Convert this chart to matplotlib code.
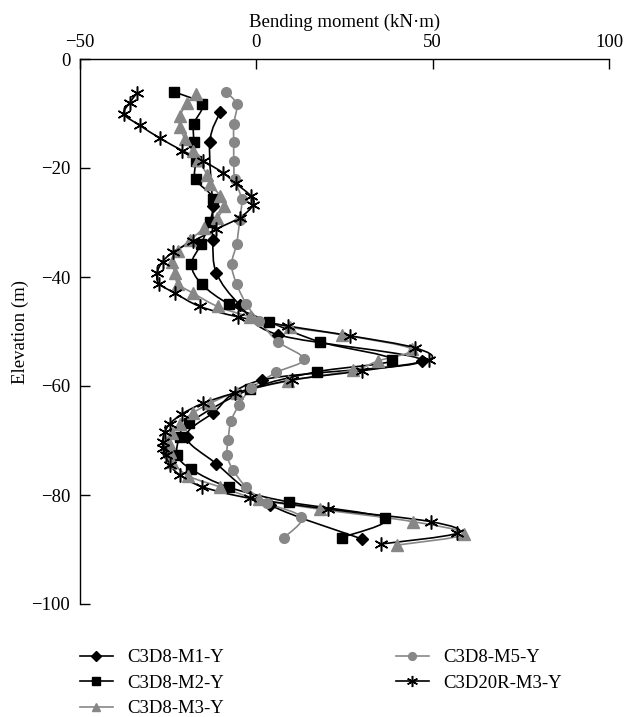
import matplotlib
matplotlib.use("Agg")
import matplotlib.pyplot as plt
from matplotlib.path import Path
from matplotlib.patches import PathPatch
from matplotlib.lines import Line2D

plt.rcParams['font.family'] = ['Liberation Serif', 'DejaVu Serif']
plt.rcParams['axes.unicode_minus'] = True

# ---- data (moment kN·m, elevation m) ----
m1_x = [-10.3, -13.2, -12.4, -12.4, -11.3, -4.7, 6.2, 47.0, 1.5, -12.2, -19.8, -11.3, 3.8, 30.1]
m1_y = [-9.8, -15.3, -27.0, -33.2, -39.3, -45.1, -50.6, -55.4, -58.9, -64.9, -69.3, -74.3, -81.8, -88.1]

m2_x = [-23.4, -15.5, -17.7, -17.7, -17.2, -17.2, -12.2, -13.2, -15.7, -18.4, -15.5, -7.7, 3.6, 18.0,
        38.6, 17.1, -1.8, -19.0, -21.7, -22.4, -18.4, -7.7, 9.3, 36.4, 24.3]
m2_y = [-6.0, -8.3, -11.9, -15.2, -18.7, -22.1, -25.6, -29.9, -34.0, -37.7, -41.3, -45.0, -48.2, -51.9,
        -55.2, -57.4, -60.6, -66.7, -69.3, -72.7, -75.3, -78.6, -81.3, -84.3, -87.8]

m3_x = [-17.0, -19.6, -21.7, -21.7, -20.3, -18.1, -16.5, -13.9, -13.2, -10.2, -9.2, -11.1, -14.9, -18.9,
        -22.2, -23.8, -23.1, -22.2, -18.1, -11.0, -1.8, 9.5, 24.2, 44.0, 34.5, 27.4, 9.0, -5.6, -13.2,
        -18.1, -21.7, -24.0, -24.8, -24.5, -23.8, -19.3, -10.3, 0.8, 18.0, 44.5, 59.0, 39.8]
m3_y = [-6.4, -8.1, -10.5, -12.4, -14.6, -16.8, -18.5, -21.3, -22.9, -25.1, -27.0, -29.1, -31.1, -33.3,
        -35.2, -37.2, -39.3, -41.3, -42.9, -45.4, -47.3, -49.2, -50.6, -53.2, -55.4, -57.1, -59.1, -61.2, -63.2,
        -65.0, -66.9, -68.7, -70.4, -72.1, -73.9, -76.5, -78.5, -80.8, -82.6, -84.9, -87.2, -89.2]

m5_x = [-8.7, -5.6, -6.4, -6.4, -6.4, -6.1, -4.2, -4.7, -5.6, -7.0, -5.6, -2.8, 0.8, 6.2, 13.5, 5.7,
        -1.4, -4.9, -7.2, -8.0, -8.3, -6.6, -2.8, 2.9, 12.8, 7.9]
m5_y = [-6.0, -8.3, -11.9, -15.2, -18.8, -22.1, -25.7, -29.5, -33.9, -37.7, -41.3, -45.0, -48.1, -51.9,
        -55.1, -57.5, -60.4, -63.5, -66.5, -69.9, -72.7, -75.4, -78.6, -81.4, -84.1, -87.8]

r3_x = [-33.7, -35.9, -37.5, -33.0, -27.4, -21.0, -15.1, -9.4, -5.9, -1.6, -0.9, -4.7, -11.3, -17.9,
        -23.6, -26.6, -28.1, -27.6, -23.0, -16.0, -5.3, 9.0, 26.7, 45.0, 49.0, 30.0, 10.0, -6.1, -15.2,
        -21.0, -24.5, -25.9, -26.6, -26.4, -25.5, -24.5, -21.7, -15.3, -1.8, 20.4, 49.5, 57.0, 35.3]
r3_y = [-6.2, -8.0, -10.1, -12.2, -14.5, -16.8, -18.7, -20.9, -22.8, -25.1, -26.8, -29.1, -31.2, -33.4,
        -35.4, -37.2, -39.2, -41.2, -43.0, -45.4, -47.3, -49.0, -50.8, -53.0, -55.2, -57.2, -58.9, -61.3, -63.2,
        -65.1, -66.9, -68.4, -70.2, -71.4, -72.7, -74.5, -76.3, -78.5, -80.6, -82.6, -84.9, -87.0, -89.0]

labels = ['C3D8-M1-Y', 'C3D8-M2-Y', 'C3D8-M3-Y', 'C3D8-M5-Y', 'C3D20R-M3-Y']
x_ticks = [-50, 0, 50, 100]
y_ticks = [0, -20, -40, -60, -80, -100]

GRAY = '#878787'
FS = 13.5


def smooth_path(xs, ys):
    """Catmull-Rom style smoothed path through the data points (like Excel smoothed lines)."""
    pts = list(zip(xs, ys))
    n = len(pts)
    verts = [pts[0]]
    codes = [Path.MOVETO]
    for i in range(n - 1):
        p0 = pts[i - 1] if i > 0 else pts[i]
        p1 = pts[i]
        p2 = pts[i + 1]
        p3 = pts[i + 2] if i + 2 < n else pts[i + 1]
        c1 = (p1[0] + (p2[0] - p0[0]) / 6.0, p1[1] + (p2[1] - p0[1]) / 6.0)
        c2 = (p2[0] - (p3[0] - p1[0]) / 6.0, p2[1] - (p3[1] - p1[1]) / 6.0)
        verts += [c1, c2, p2]
        codes += [Path.CURVE4] * 3
    return Path(verts, codes)


fig = plt.figure(figsize=(6.24, 7.17), dpi=100)
ax = fig.add_axes([80/624, 1-604/717, (609-80)/624, (604-59)/717])

styles = [
    dict(color='black', marker='D', ms=6, mfc='black', mec='black', mew=1.0),
    dict(color='black', marker='s', ms=6.5, mfc='black', mec='black', mew=1.0),
    dict(color=GRAY, marker='^', ms=8, mfc=GRAY, mec=GRAY, mew=1.0),
    dict(color=GRAY, marker='o', ms=7, mfc=GRAY, mec=GRAY, mew=1.0),
    dict(color='black', marker=(6, 2, 0), ms=10, mfc='black', mec='black', mew=1.1),
]
series = [(m1_x, m1_y), (m2_x, m2_y), (m3_x, m3_y), (m5_x, m5_y), (r3_x, r3_y)]
handles = []
for k, ((xs, ys), st, lab) in enumerate(zip(series, styles, labels)):
    patch = PathPatch(smooth_path(xs, ys), facecolor='none', edgecolor=st['color'],
                      lw=1.2, transform=ax.transData, zorder=2 + k * 0.1)
    ax.add_patch(patch)
    ax.plot(xs, ys, ls='none', zorder=3 + k * 0.1, **st)
    handles.append(Line2D([], [], lw=1.2, **st))

ax.set_xlim(-50, 100)
ax.set_ylim(-100, 0)
ax.set_xticks(x_ticks)
ax.set_yticks(y_ticks)
ax.xaxis.tick_top()
ax.xaxis.set_label_position('top')
ax.spines['right'].set_visible(False)
ax.spines['bottom'].set_visible(False)
for s in ['top', 'left']:
    ax.spines[s].set_linewidth(1.0)
ax.tick_params(axis='x', direction='in', length=7, width=1.0, pad=6, labelsize=FS, top=True, bottom=False)
ax.tick_params(axis='y', direction='in', length=7, width=1.0, pad=7, labelsize=FS)
ax.set_xlabel('Bending moment (kN·m)', fontsize=FS, labelpad=5)
ax.set_ylabel('Elevation (m)', fontsize=FS, labelpad=2)

common = dict(loc='upper left', frameon=False, fontsize=FS, handlelength=1.75,
              handletextpad=0.75, labelspacing=0.45, borderpad=0, borderaxespad=0,
              markerscale=0.8)
leg1 = fig.legend(handles=handles[:3], labels=labels[:3],
                  bbox_to_anchor=(80/624, 1-649/717), **common)
leg2 = fig.legend(handles=handles[3:], labels=labels[3:],
                  bbox_to_anchor=(396/624, 1-649/717), **common)

fig.savefig('out.png', dpi=100)
